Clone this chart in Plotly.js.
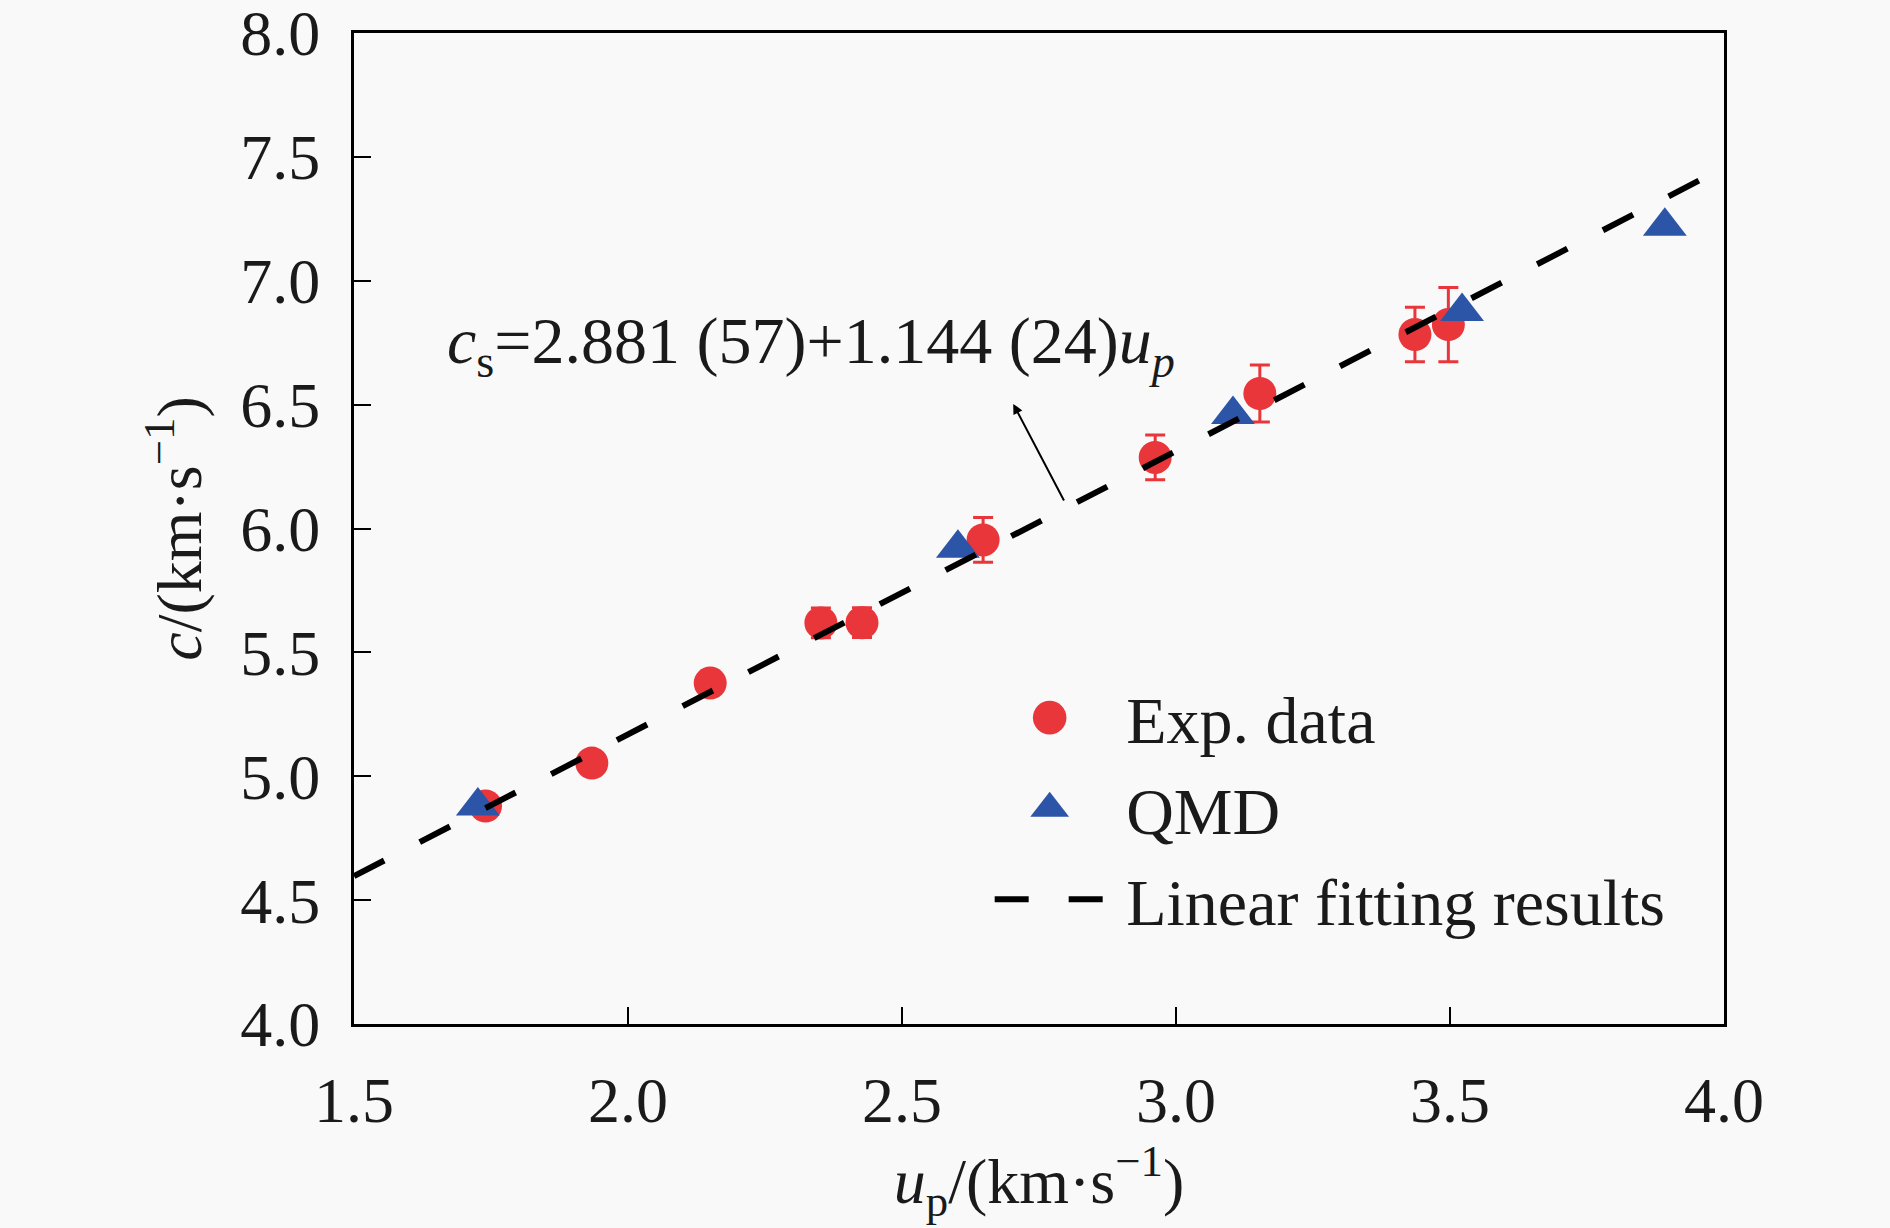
<!DOCTYPE html>
<html>
<head>
<meta charset="utf-8">
<script src="https://cdn.plot.ly/plotly-3.0.1.min.js"></script>
<style>
  html, body { margin: 0; padding: 0; background: #f9f9f9; }
  #chart { width: 1890px; height: 1228px; }
</style>
</head>
<body>
<div id="chart"></div>
<script>
// experimental points with error bars
const expUp = [1.74, 1.934, 2.150, 2.352, 2.427, 2.648, 2.962, 3.153, 3.436, 3.497];
const expC = [4.88, 5.053, 5.376, 5.619, 5.62, 5.954, 6.287, 6.545, 6.783, 6.823];
const expErr = [0.03, 0.03, 0.045, 0.06, 0.06, 0.09, 0.09, 0.115, 0.11, 0.15];

// QMD results
const qmdUp = [1.726, 2.602, 3.104, 3.522, 3.892];
const qmdC = [4.88, 5.92, 6.46, 6.876, 7.22];

// linear fit end points
const fitUp = [1.5, 3.99];
const fitC = [4.597, 7.445];

const xTicks = [1.5, 2.0, 2.5, 3.0, 3.5, 4.0];
const yTicks = [4.0, 4.5, 5.0, 5.5, 6.0, 6.5, 7.0, 7.5, 8.0];

const RED = '#e8363b';
const BLUE = '#2c55a8';
const FONT = 'Liberation Serif, Times New Roman, serif';

const traces = [
    {
        x: expUp, y: expC,
        type: 'scatter', mode: 'markers',
        name: '\u00a0Exp. data',
        legendgroup: 'a', legendrank: 1,
        marker: { color: RED, size: 33, symbol: 'circle' },
        error_y: { type: 'data', array: expErr, visible: true, color: RED, thickness: 3, width: 10 },
    },
    {
        x: qmdUp, y: qmdC,
        type: 'scatter', mode: 'markers',
        name: '\u00a0QMD',
        legendgroup: 'b', legendrank: 2,
        marker: { color: BLUE, size: 38, symbol: 'triangle-up' },
    },
    {
        x: fitUp, y: fitC,
        type: 'scatter', mode: 'lines',
        name: '\u00a0Linear fitting results',
        legendgroup: 'c', legendrank: 3,
        line: { color: '#000000', width: 6, dash: '34px,40px' },
    },
];

const axisCommon = {
    showgrid: false,
    zeroline: false,
    showline: true,
    linecolor: '#000000',
    linewidth: 3,
    mirror: true,
    ticks: 'inside',
    ticklen: 17,
    tickwidth: 2,
    tickcolor: '#000000',
    tickformat: '.1f',
    tickfont: { family: FONT, size: 64, color: '#1a1a1a' },
    ticklabelstandoff: 18,
    ticklabeloverflow: 'allow',
};

const layout = {
    width: 1890,
    height: 1228,
    paper_bgcolor: '#f9f9f9',
    plot_bgcolor: '#f9f9f9',
    font: { family: FONT, size: 64, color: '#1a1a1a' },
    margin: { l: 354, r: 166, t: 33, b: 204 },
    xaxis: Object.assign({}, axisCommon, {
        range: [1.5, 4.0],
        tickvals: xTicks,
        title: { text: '<i>u</i><sub>p</sub>/(km·s<sup>−1</sup>)', font: { family: FONT, size: 64 }, standoff: 16 },
    }),
    yaxis: Object.assign({}, axisCommon, {
        range: [4.0, 8.0],
        tickvals: yTicks,
        title: { text: '<i>c</i>/(km·s<sup>−1</sup>)', font: { family: FONT, size: 64 }, standoff: 18 },
    }),
    showlegend: true,
    legend: {
        x: 0.464, y: 0.359,
        xanchor: 'left', yanchor: 'top',
        bgcolor: 'rgba(0,0,0,0)',
        font: { family: FONT, size: 66, color: '#1a1a1a' },
        traceorder: 'grouped',
        tracegroupgap: 2,
        itemwidth: 110,
    },
    annotations: [
        {
            xref: 'x', yref: 'y',
            x: 2.334, y: 6.74,
            text: '<i>c</i><sub>s</sub>=2.881 (57)+1.144 (24)<i>u<sub>p</sub></i>',
            showarrow: false,
            font: { family: FONT, size: 66, color: '#1a1a1a' },
        },
        {
            xref: 'x', yref: 'y', axref: 'x', ayref: 'y',
            x: 2.703, y: 6.503,
            ax: 2.797, ay: 6.107,
            text: '',
            showarrow: true,
            arrowhead: 2,
            arrowsize: 1,
            arrowwidth: 2,
            arrowcolor: '#000000',
        },
    ],
};

Plotly.newPlot('chart', traces, layout, { displayModeBar: false, staticPlot: true }).then(gd => {
    // legend symbols are capped at 16px by plotly; enlarge them to match the plot markers
    gd.querySelectorAll('.legend path.scatterpts').forEach(p => {
        const t = p.getAttribute('transform') || '';
        p.setAttribute('transform', t + ' scale(2.1)');
    });
});
</script>
</body>
</html>
